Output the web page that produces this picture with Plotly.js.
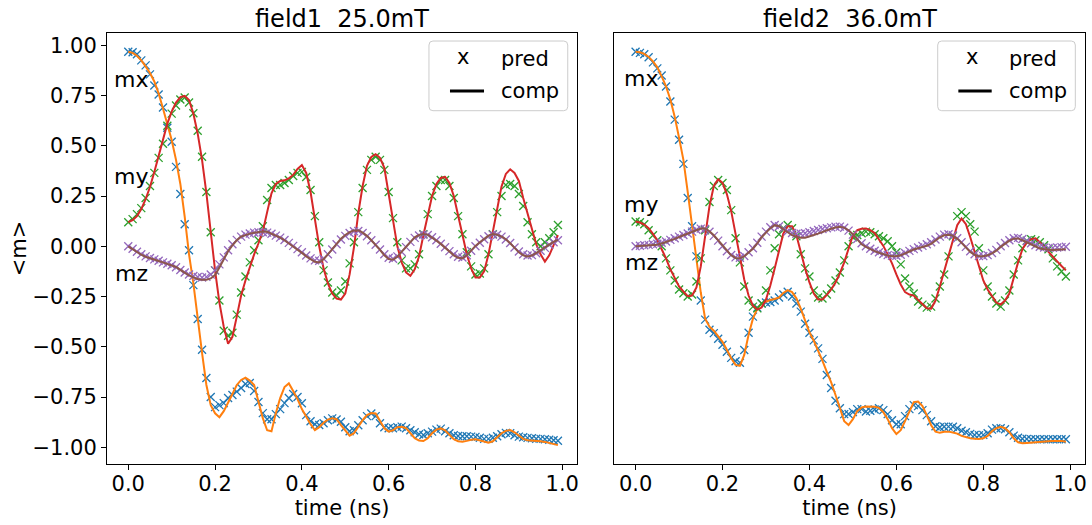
<!DOCTYPE html>
<html>
<head>
<meta charset="utf-8">
<script src="https://cdn.plot.ly/plotly-3.0.1.min.js"></script>
<style>html,body{margin:0;padding:0;background:#fff;}#chart{width:1092px;height:525px;}</style>
</head>
<body>
<div id="chart"></div>
<script>
// time axis (ns)
const time = [0.00,0.01,0.02,0.03,0.04,0.05,0.06,0.07,0.08,0.09,0.10,0.11,0.12,0.13,0.14,0.15,0.16,0.17,0.18,0.19,
0.20,0.21,0.22,0.23,0.24,0.25,0.26,0.27,0.28,0.29,0.30,0.31,0.32,0.33,0.34,0.35,0.36,0.37,0.38,0.39,
0.40,0.41,0.42,0.43,0.44,0.45,0.46,0.47,0.48,0.49,0.50,0.51,0.52,0.53,0.54,0.55,0.56,0.57,0.58,0.59,
0.60,0.61,0.62,0.63,0.64,0.65,0.66,0.67,0.68,0.69,0.70,0.71,0.72,0.73,0.74,0.75,0.76,0.77,0.78,0.79,
0.80,0.81,0.82,0.83,0.84,0.85,0.86,0.87,0.88,0.89,0.90,0.91,0.92,0.93,0.94,0.95,0.96,0.97,0.98,0.99];

// ---- field1 (25.0 mT) ----
const f1_mx_comp = [0.968,0.962,0.948,0.925,0.895,0.862,0.82,0.76,0.685,0.61,0.529,0.43,0.31,0.147,-0.04,-0.184,-0.365,-0.53,-0.69,-0.79,
-0.831,-0.85,-0.82,-0.78,-0.735,-0.69,-0.665,-0.654,-0.668,-0.69,-0.77,-0.855,-0.915,-0.92,-0.83,-0.755,-0.7,-0.682,-0.72,-0.76,
-0.81,-0.85,-0.885,-0.914,-0.9,-0.878,-0.862,-0.855,-0.86,-0.89,-0.918,-0.942,-0.93,-0.895,-0.865,-0.84,-0.83,-0.832,-0.87,-0.905,
-0.922,-0.915,-0.9,-0.898,-0.905,-0.93,-0.955,-0.966,-0.969,-0.955,-0.93,-0.912,-0.906,-0.915,-0.94,-0.96,-0.97,-0.972,-0.968,-0.962,
-0.96,-0.965,-0.972,-0.977,-0.97,-0.95,-0.93,-0.918,-0.914,-0.925,-0.942,-0.958,-0.965,-0.966,-0.968,-0.97,-0.973,-0.978,-0.984,-0.989];
const f1_mx_pred = [0.968,0.965,0.955,0.925,0.9,0.855,0.8,0.755,0.69,0.59,0.52,0.395,0.26,0.11,-0.02,-0.193,-0.362,-0.515,-0.655,-0.75,
-0.8,-0.79,-0.78,-0.755,-0.74,-0.723,-0.705,-0.685,-0.68,-0.72,-0.775,-0.83,-0.86,-0.86,-0.835,-0.81,-0.78,-0.755,-0.735,-0.75,
-0.781,-0.84,-0.87,-0.885,-0.889,-0.88,-0.865,-0.856,-0.862,-0.873,-0.9,-0.92,-0.915,-0.89,-0.865,-0.845,-0.832,-0.845,-0.88,-0.9,
-0.905,-0.905,-0.9,-0.897,-0.905,-0.915,-0.925,-0.935,-0.939,-0.93,-0.922,-0.912,-0.907,-0.92,-0.93,-0.94,-0.944,-0.945,-0.945,-0.947,
-0.948,-0.952,-0.958,-0.958,-0.952,-0.945,-0.935,-0.928,-0.93,-0.94,-0.947,-0.95,-0.953,-0.955,-0.957,-0.958,-0.96,-0.962,-0.965,-0.967];
const f1_my_comp = [0.12,0.13,0.15,0.185,0.235,0.295,0.37,0.45,0.53,0.61,0.67,0.715,0.742,0.748,0.728,0.66,0.56,0.43,0.264,0.07,
-0.12,-0.28,-0.4,-0.485,-0.45,-0.35,-0.245,-0.17,-0.1,-0.04,0.015,0.075,0.17,0.264,0.31,0.325,0.328,0.338,0.355,0.385,
0.404,0.365,0.27,0.13,0.0,-0.11,-0.185,-0.235,-0.26,-0.265,-0.235,-0.14,-0.005,0.165,0.3,0.4,0.445,0.458,0.44,0.39,
0.27,0.13,0.0,-0.08,-0.13,-0.147,-0.115,-0.05,0.055,0.16,0.25,0.31,0.34,0.345,0.315,0.25,0.15,0.05,-0.04,-0.11,
-0.155,-0.155,-0.125,-0.04,0.07,0.19,0.297,0.36,0.383,0.365,0.325,0.24,0.16,0.09,0.01,-0.04,-0.076,-0.045,0.01,0.056];
const f1_my_pred = [0.12,0.135,0.16,0.19,0.24,0.3,0.365,0.44,0.51,0.6,0.66,0.7,0.73,0.74,0.715,0.662,0.575,0.445,0.27,0.07,
-0.12,-0.27,-0.42,-0.445,-0.43,-0.34,-0.23,-0.15,-0.08,-0.02,0.03,0.1,0.23,0.29,0.305,0.305,0.315,0.33,0.35,0.365,
0.37,0.345,0.28,0.15,0.02,-0.12,-0.18,-0.23,-0.245,-0.22,-0.175,-0.085,0.02,0.17,0.29,0.38,0.43,0.445,0.43,0.38,
0.27,0.14,0.02,-0.07,-0.11,-0.11,-0.09,-0.04,0.06,0.16,0.25,0.3,0.33,0.33,0.3,0.24,0.15,0.06,-0.03,-0.1,
-0.14,-0.135,-0.11,-0.04,0.06,0.17,0.25,0.305,0.31,0.3,0.26,0.2,0.12,0.06,0.02,0.0,0.02,0.04,0.07,0.106];
const f1_mz_comp = [0.0,-0.015,-0.03,-0.042,-0.052,-0.06,-0.067,-0.073,-0.08,-0.087,-0.093,-0.103,-0.117,-0.132,-0.145,-0.155,-0.163,-0.167,-0.167,-0.16,
-0.143,-0.105,-0.062,-0.025,0.005,0.03,0.048,0.057,0.063,0.067,0.071,0.073,0.072,0.063,0.053,0.043,0.03,0.015,0.0,-0.017,
-0.033,-0.05,-0.065,-0.077,-0.08,-0.065,-0.04,-0.015,0.013,0.038,0.056,0.07,0.079,0.08,0.068,0.052,0.03,0.007,-0.018,-0.045,
-0.063,-0.067,-0.052,-0.027,-0.003,0.025,0.045,0.056,0.061,0.058,0.045,0.028,0.012,-0.007,-0.027,-0.045,-0.057,-0.06,-0.045,-0.02,
0.002,0.02,0.038,0.053,0.061,0.058,0.048,0.035,0.015,-0.008,-0.03,-0.045,-0.051,-0.046,-0.035,-0.02,-0.005,0.01,0.022,0.032];
const f1_mz_pred = [0.0,-0.012,-0.027,-0.04,-0.05,-0.058,-0.065,-0.072,-0.08,-0.087,-0.094,-0.104,-0.118,-0.13,-0.14,-0.148,-0.153,-0.155,-0.152,-0.14,
-0.12,-0.09,-0.055,-0.02,0.01,0.032,0.048,0.058,0.064,0.068,0.07,0.07,0.068,0.062,0.053,0.043,0.031,0.017,0.002,-0.014,
-0.03,-0.046,-0.06,-0.07,-0.072,-0.062,-0.04,-0.016,0.01,0.034,0.052,0.066,0.075,0.076,0.066,0.05,0.03,0.008,-0.016,-0.04,
-0.057,-0.062,-0.05,-0.028,-0.004,0.022,0.042,0.054,0.058,0.056,0.045,0.03,0.013,-0.005,-0.024,-0.04,-0.052,-0.056,-0.045,-0.022,
0.0,0.018,0.035,0.05,0.058,0.057,0.048,0.034,0.016,-0.006,-0.026,-0.04,-0.046,-0.044,-0.035,-0.022,-0.008,0.008,0.02,0.03];

// ---- field2 (36.0 mT) ----
const f2_mx_comp = [0.968,0.965,0.957,0.942,0.92,0.89,0.845,0.795,0.73,0.645,0.54,0.43,0.27,0.1,-0.07,-0.23,-0.36,-0.4,-0.42,-0.45,
-0.475,-0.515,-0.557,-0.59,-0.595,-0.54,-0.44,-0.36,-0.31,-0.284,-0.275,-0.267,-0.262,-0.255,-0.232,-0.218,-0.228,-0.259,-0.31,-0.365,
-0.428,-0.47,-0.516,-0.57,-0.625,-0.677,-0.74,-0.81,-0.87,-0.889,-0.86,-0.82,-0.802,-0.797,-0.797,-0.798,-0.804,-0.825,-0.86,-0.905,
-0.934,-0.915,-0.87,-0.82,-0.775,-0.772,-0.795,-0.84,-0.89,-0.922,-0.928,-0.923,-0.922,-0.926,-0.932,-0.943,-0.951,-0.955,-0.958,-0.959,
-0.955,-0.943,-0.92,-0.905,-0.898,-0.905,-0.925,-0.955,-0.975,-0.98,-0.978,-0.977,-0.975,-0.973,-0.972,-0.97,-0.968,-0.967,-0.968,-0.972];
const f2_mx_pred = [0.968,0.962,0.955,0.94,0.915,0.885,0.85,0.795,0.72,0.63,0.53,0.41,0.24,0.1,-0.05,-0.27,-0.365,-0.415,-0.432,-0.46,
-0.49,-0.525,-0.555,-0.572,-0.579,-0.516,-0.43,-0.35,-0.305,-0.285,-0.28,-0.277,-0.27,-0.255,-0.24,-0.226,-0.25,-0.285,-0.325,-0.385,
-0.43,-0.468,-0.508,-0.56,-0.64,-0.705,-0.768,-0.806,-0.835,-0.834,-0.825,-0.81,-0.81,-0.822,-0.818,-0.812,-0.806,-0.815,-0.835,-0.865,
-0.885,-0.885,-0.845,-0.81,-0.79,-0.795,-0.815,-0.84,-0.87,-0.895,-0.9,-0.898,-0.897,-0.898,-0.905,-0.918,-0.925,-0.933,-0.939,-0.94,
-0.938,-0.93,-0.912,-0.905,-0.905,-0.91,-0.925,-0.942,-0.952,-0.957,-0.959,-0.96,-0.96,-0.96,-0.96,-0.96,-0.96,-0.96,-0.96,-0.96];
const f2_my_comp = [0.123,0.118,0.108,0.09,0.062,0.03,-0.015,-0.06,-0.115,-0.16,-0.2,-0.225,-0.248,-0.245,-0.205,-0.1,0.05,0.2,0.3,0.333,
0.315,0.26,0.175,0.065,-0.05,-0.165,-0.245,-0.295,-0.315,-0.305,-0.265,-0.195,-0.11,-0.02,0.064,0.1,0.1,0.055,-0.03,-0.11,
-0.18,-0.235,-0.265,-0.265,-0.242,-0.215,-0.18,-0.135,-0.08,-0.01,0.055,0.08,0.087,0.089,0.08,0.066,0.035,0.002,-0.04,-0.085,
-0.14,-0.19,-0.228,-0.24,-0.245,-0.265,-0.29,-0.308,-0.31,-0.27,-0.2,-0.125,-0.045,0.035,0.105,0.138,0.11,0.045,-0.03,-0.105,
-0.17,-0.215,-0.25,-0.28,-0.29,-0.27,-0.235,-0.155,-0.08,-0.015,0.02,0.035,0.04,0.02,-0.005,-0.03,-0.052,-0.075,-0.098,-0.12];
const f2_my_pred = [0.123,0.12,0.11,0.08,0.055,0.03,0.0,-0.06,-0.12,-0.17,-0.215,-0.234,-0.25,-0.24,-0.175,-0.06,0.08,0.22,0.3,0.33,
0.315,0.28,0.18,0.04,-0.08,-0.2,-0.27,-0.3,-0.309,-0.284,-0.22,-0.12,-0.01,0.06,0.09,0.106,0.09,0.05,-0.04,-0.11,
-0.15,-0.22,-0.255,-0.26,-0.24,-0.21,-0.17,-0.13,-0.07,0.0,0.045,0.056,0.065,0.073,0.07,0.06,0.05,0.04,0.025,0.0,
-0.03,-0.09,-0.16,-0.2,-0.235,-0.275,-0.29,-0.305,-0.3,-0.26,-0.2,-0.14,-0.05,0.05,0.15,0.17,0.15,0.11,0.073,-0.01,
-0.12,-0.2,-0.25,-0.285,-0.3,-0.27,-0.22,-0.14,-0.07,-0.01,0.028,0.035,0.03,0.02,0.005,-0.015,-0.06,-0.1,-0.125,-0.15];
const f2_mz_comp = [0.0,0.001,0.002,0.004,0.005,0.008,0.014,0.021,0.029,0.037,0.046,0.055,0.063,0.072,0.081,0.088,0.089,0.075,0.055,0.03,
0.0,-0.025,-0.045,-0.058,-0.06,-0.05,-0.03,-0.012,0.015,0.045,0.068,0.09,0.105,0.1,0.085,0.068,0.055,0.047,0.043,0.043,
0.048,0.056,0.063,0.072,0.08,0.087,0.093,0.097,0.093,0.08,0.06,0.035,0.01,-0.003,-0.015,-0.024,-0.032,-0.04,-0.046,-0.05,
-0.05,-0.045,-0.035,-0.024,-0.016,-0.01,-0.004,0.003,0.012,0.028,0.045,0.055,0.057,0.053,0.038,0.017,-0.005,-0.028,-0.042,-0.05,
-0.05,-0.045,-0.035,-0.022,-0.003,0.013,0.028,0.038,0.039,0.03,0.02,0.008,-0.004,-0.011,-0.015,-0.017,-0.018,-0.017,-0.016,-0.015];
const f2_mz_pred = [0.0,0.003,0.005,0.007,0.01,0.013,0.018,0.024,0.032,0.04,0.048,0.056,0.064,0.073,0.082,0.088,0.086,0.072,0.052,0.028,
0.0,-0.025,-0.043,-0.055,-0.057,-0.048,-0.03,-0.01,0.018,0.048,0.073,0.095,0.106,0.1,0.088,0.075,0.066,0.062,0.062,0.065,
0.07,0.076,0.081,0.086,0.09,0.094,0.097,0.098,0.092,0.078,0.058,0.036,0.015,0.0,-0.012,-0.022,-0.03,-0.038,-0.044,-0.047,
-0.047,-0.042,-0.033,-0.023,-0.014,-0.006,0.002,0.01,0.02,0.034,0.048,0.058,0.06,0.055,0.04,0.02,-0.003,-0.025,-0.04,-0.048,
-0.049,-0.044,-0.033,-0.018,0.0,0.016,0.03,0.04,0.042,0.036,0.026,0.015,0.005,-0.002,-0.006,-0.008,-0.008,-0.006,-0.004,-0.002];

const panelTitles = ['field1\u00a0 25.0mT', 'field2\u00a0 36.0mT'];
const xTicks = [0, 0.2, 0.4, 0.6, 0.8, 1.0];
const yTicks = [-1, -0.75, -0.5, -0.25, 0, 0.25, 0.5, 0.75, 1];
const compLabels = ['mx', 'my', 'mz'];

const C = {mxP:'#1f77b4', mxC:'#ff7f0e', myP:'#2ca02c', myC:'#d62728', mzP:'#9467bd', mzC:'#8c564b'};
const FONT = 'DejaVu Sans, Liberation Sans, sans-serif';

function predTrace(y, color, xa, ya, name){
  return {x: time, y: y, type:'scatter', mode:'markers', name: name, xaxis: xa, yaxis: ya,
    marker:{symbol:'x-thin', size:8, color: color, line:{width:1.3, color: color}}, hoverinfo:'skip'};
}
function compTrace(y, color, xa, ya, name){
  return {x: time, y: y, type:'scatter', mode:'lines', name: name, xaxis: xa, yaxis: ya,
    line:{color: color, width:2}, hoverinfo:'skip'};
}

const data = [
  predTrace(f1_mx_pred, C.mxP, 'x', 'y', 'mx pred'), compTrace(f1_mx_comp, C.mxC, 'x', 'y', 'mx comp'),
  predTrace(f1_my_pred, C.myP, 'x', 'y', 'my pred'), compTrace(f1_my_comp, C.myC, 'x', 'y', 'my comp'),
  predTrace(f1_mz_pred, C.mzP, 'x', 'y', 'mz pred'), compTrace(f1_mz_comp, C.mzC, 'x', 'y', 'mz comp'),
  predTrace(f2_mx_pred, C.mxP, 'x2', 'y2', 'mx pred'), compTrace(f2_mx_comp, C.mxC, 'x2', 'y2', 'mx comp'),
  predTrace(f2_my_pred, C.myP, 'x2', 'y2', 'my pred'), compTrace(f2_my_comp, C.myC, 'x2', 'y2', 'my comp'),
  predTrace(f2_mz_pred, C.mzP, 'x2', 'y2', 'mz pred'), compTrace(f2_mz_comp, C.mzC, 'x2', 'y2', 'mz comp')
];

const axBase = {showline:true, mirror:true, linecolor:'black', linewidth:1, showgrid:false, zeroline:false,
  ticks:'outside', ticklen:5, tickwidth:1, tickcolor:'black', tickfont:{size:21, color:'black', family:FONT}};

const XR = [-0.049, 1.034], YR = [-1.083, 1.061];

function roundedBox(x0, x1, y0, y1){
  const rx = 4/978, ry = 4/431;
  return {type:'path', xref:'paper', yref:'paper', layer:'above',
    path:`M ${x0+rx},${y0} L ${x1-rx},${y0} Q ${x1},${y0} ${x1},${y0+ry} L ${x1},${y1-ry} Q ${x1},${y1} ${x1-rx},${y1} L ${x0+rx},${y1} Q ${x0},${y1} ${x0},${y1-ry} L ${x0},${y0+ry} Q ${x0},${y0} ${x0+rx},${y0} Z`,
    fillcolor:'rgba(255,255,255,0.8)', line:{color:'#cccccc', width:1}};
}

const legends = [
  {box:[0.3292,0.4711], xMark:0.364, text:0.4008, line:[0.3507,0.3855]},
  {box:[0.8494,0.9901], xMark:0.8841, text:0.9206, line:[0.8705,0.9046]}
];
const shapes = [], annotations = [];
legends.forEach(L => {
  shapes.push(roundedBox(L.box[0], L.box[1], 0.8197, 0.9814));
  shapes.push({type:'line', xref:'paper', yref:'paper', layer:'above', x0:L.line[0], x1:L.line[1], y0:0.8654, y1:0.8654, line:{color:'black', width:3}});
  annotations.push({xref:'paper', yref:'paper', x:L.xMark, y:0.9397+0.004, text:'x', showarrow:false, xanchor:'center', yanchor:'middle', font:{size:21, family:FONT, color:'black'}});
  annotations.push({xref:'paper', yref:'paper', x:L.text, y:0.9397, text:'pred', showarrow:false, xanchor:'left', yanchor:'middle', font:{size:21, family:FONT, color:'black'}});
  annotations.push({xref:'paper', yref:'paper', x:L.text, y:0.8654, text:'comp', showarrow:false, xanchor:'left', yanchor:'middle', font:{size:21, family:FONT, color:'black'}});
});
// panel titles
[[0.2403, panelTitles[0]], [0.7594, panelTitles[1]]].forEach(([x, t]) => {
  annotations.push({xref:'paper', yref:'paper', x:x, y:1.0325, text:t, showarrow:false, xanchor:'center', yanchor:'middle', font:{size:24, family:FONT, color:'black'}});
});
// component labels
const labelPos = [
  [0.025, [0.891, 0.6682, 0.442]],
  [0.5465, [0.895, 0.6032, 0.4664]]
];
labelPos.forEach(([x, ys]) => {
  ys.forEach((y, i) => annotations.push({xref:'paper', yref:'paper', x:x, y:y, text:compLabels[i], showarrow:false, xanchor:'center', yanchor:'middle', font:{size:22, family:FONT, color:'black'}}));
});

const layout = {
  width:1092, height:525,
  margin:{l:107, r:7, t:33, b:61},
  paper_bgcolor:'white', plot_bgcolor:'white',
  font:{family:FONT, size:21, color:'black'},
  showlegend:false,
  xaxis: Object.assign({}, axBase, {domain:[0,0.4806], range:XR, tickvals:xTicks, tickformat:'.1f', anchor:'y', ticklabelstandoff:-4,
    title:{text:'time (ns)', font:{size:21, family:FONT, color:'black'}, standoff:2}}),
  yaxis: Object.assign({}, axBase, {domain:[0,1], range:YR, tickvals:yTicks, tickformat:'.2f', anchor:'x',
    title:{text:'&lt;m&gt;', font:{size:21, family:FONT, color:'black'}, standoff:0}}),
  xaxis2: Object.assign({}, axBase, {domain:[0.5187,1], range:XR, tickvals:xTicks, tickformat:'.1f', anchor:'y2', ticklabelstandoff:-4,
    title:{text:'time (ns)', font:{size:21, family:FONT, color:'black'}, standoff:2}}),
  yaxis2: Object.assign({}, axBase, {domain:[0,1], range:YR, tickvals:yTicks, anchor:'x2', showticklabels:false, ticks:''}),
  shapes: shapes,
  annotations: annotations
};

Plotly.newPlot('chart', data, layout, {staticPlot:true, displayModeBar:false});
</script>
</body>
</html>
